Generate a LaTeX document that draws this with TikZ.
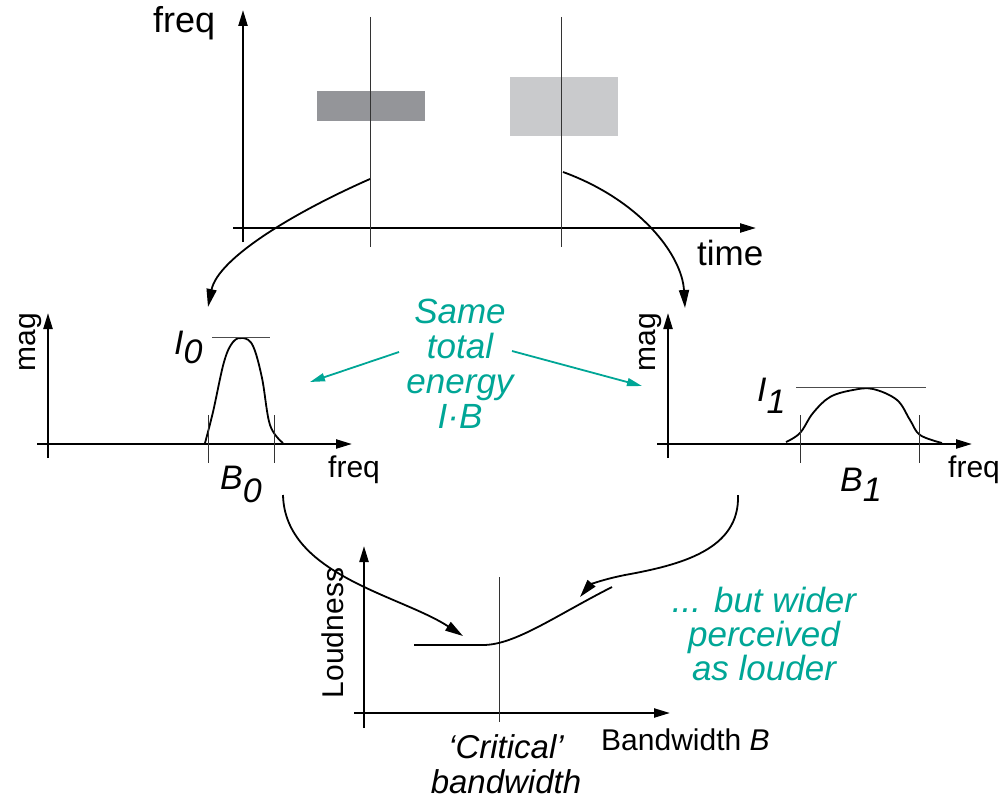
\documentclass[tikz,border=0pt]{standalone}
\usepackage{fontspec}
\setmainfont{Liberation Sans}
\usetikzlibrary{arrows.meta}
\definecolor{tealtext}{RGB}{0,166,150}
\definecolor{bardark}{RGB}{148,149,153}
\definecolor{barlight}{RGB}{201,202,204}

\begin{document}
\begin{tikzpicture}[
    x=1pt, y=-1pt,
    axis/.style={line width=2.2pt, -{Triangle[length=16pt,width=9pt]}},
    guide/.style={line width=1pt, black!80},
    level/.style={line width=0.9pt, black!70},
    curve/.style={line width=1.8pt},
    flow/.style={line width=1.8pt, -{Triangle[length=18pt,width=10pt]}},
    hint/.style={line width=1.8pt, tealtext, -{Triangle[length=15pt,width=8pt]}},
    lbl/.style={inner sep=0pt, font=\fontsize{30}{32}\selectfont},
    sym/.style={inner sep=0pt, font=\fontsize{34}{34}\selectfont\itshape},
    note/.style={inner sep=0pt, align=center, text=tealtext,
                 font=\fontsize{35}{35}\selectfont\itshape}
]
\useasboundingbox (0,0) rectangle (1004,800);

% --- Spectrogramme (en haut) ---
\fill[bardark]  (317,91) rectangle (425,121);
\fill[barlight] (510,77) rectangle (618,136);
\draw[axis] (243,242) -- (243,10);
\draw[axis] (233,228) -- (756,228);
\draw[guide] (370,17) -- (370,247);
\draw[guide] (561,17) -- (561,247);
\node[lbl, font=\fontsize{36}{36}\selectfont, anchor=base west] (tfreq) at (153,33) {freq};
\node[lbl, font=\fontsize{35}{35}\selectfont, anchor=base west] (time) at (697,265) {time};
\coordinate (cutA) at (370,179);
\coordinate (cutB) at (563,172);

% ============================================================
%  SPECTRE ETROIT  (a gauche)
% ============================================================
\draw[axis] (48,458) -- (48,313);
\draw[axis] (37,444) -- (352,444);
\node[lbl, rotate=90, anchor=base] (magA) at (35,342) {mag};
\node[lbl, anchor=base west] (freqA) at (328,477) {freq};
\draw[curve] plot[smooth, tension=0.6] coordinates {(205,443) (213,412) (224,362)
    (233,342) (243,338) (253,346) (262,378) (270,425) (283,443)};
\draw[level] (212,337) -- (270,337);
\draw[guide] (208,415) -- (208,463);
\draw[guide] (274,415) -- (274,463);
\node[sym, anchor=base west] (izero) at (174,354) {I\raisebox{-9pt}{0}};
\node[sym, anchor=base west] (bzero) at (220,489) {B\raisebox{-13pt}{0}};
\coordinate (specA) at (208,307);
\coordinate (fromA) at (283,495);

% ============================================================
%  SPECTRE LARGE  (a droite)
% ============================================================
\draw[axis] (668,458) -- (668,313);
\draw[axis] (657,444) -- (972,444);
\node[lbl, rotate=90, anchor=base] (magB) at (655,342) {mag};
\node[lbl, anchor=base west] (freqB) at (948,477) {freq};
\draw[curve] plot[smooth, tension=0.6] coordinates {(786,442) (800,433) (813,413)
    (830,397) (853,390) (873,389) (897,400) (910,420) (920,435) (942,443)};
\draw[level] (796,387) -- (926,387);
\draw[guide] (800,415) -- (800,463);
\draw[guide] (919,415) -- (919,463);
\node[sym, anchor=base west] (ione) at (757,401) {I\raisebox{-12pt}{1}};
\node[sym, anchor=base west] (bone) at (840,491) {B\raisebox{-10pt}{1}};
\coordinate (specB) at (685,308);
\coordinate (fromB) at (738,495);

% --- Texte central ---
\node[note, anchor=base] (same) at (460,428) {Same\\total\\energy\\I·B};
\coordinate (hintA) at (310,382);
\coordinate (hintB) at (642,386);

% ============================================================
%  SONIE vs LARGEUR DE BANDE  (en bas)
% ============================================================
\draw[axis] (364,728) -- (364,546);
\draw[axis] (354,713) -- (670,713);
\draw[guide] (499,577) -- (499,722);
\draw[curve] (414,645) -- (483,645) .. controls (515,645) and (555,616) .. (612,587);
\node[lbl, rotate=90, anchor=base] (loud) at (343,633) {Loudness};
\node[lbl, anchor=base west] (bw) at (601,750) {Bandwidth \textit{B}};
\node[note, text=black, font=\fontsize{33}{35}\selectfont\itshape, anchor=base]
    (crit) at (506,793) {‘Critical’\\bandwidth};
\node[note, font=\fontsize{35}{34}\selectfont\itshape, anchor=base]
    (wider) at (764,680) {... but wider\\perceived\\as louder};
\coordinate (loudA) at (463,636);
\coordinate (loudB) at (580,597);

% ============================================================
%  FLECHES
% ============================================================
\draw[flow] (cutA) .. controls (295,212) and (218,258) .. (specA);
\draw[flow] (cutB) .. controls (640,200) and (682,255) .. (specB);
\draw[flow] (fromA) .. controls (285,575) and (400,595) .. (loudA);
\draw[flow] (fromB) .. controls (740,550) and (680,565) .. (625,575)
    .. controls (600,580) and (590,585) .. (loudB);
\draw[hint] (399,352) -- (hintA);
\draw[hint] (512,351) -- (hintB);

\end{tikzpicture}
\end{document}
